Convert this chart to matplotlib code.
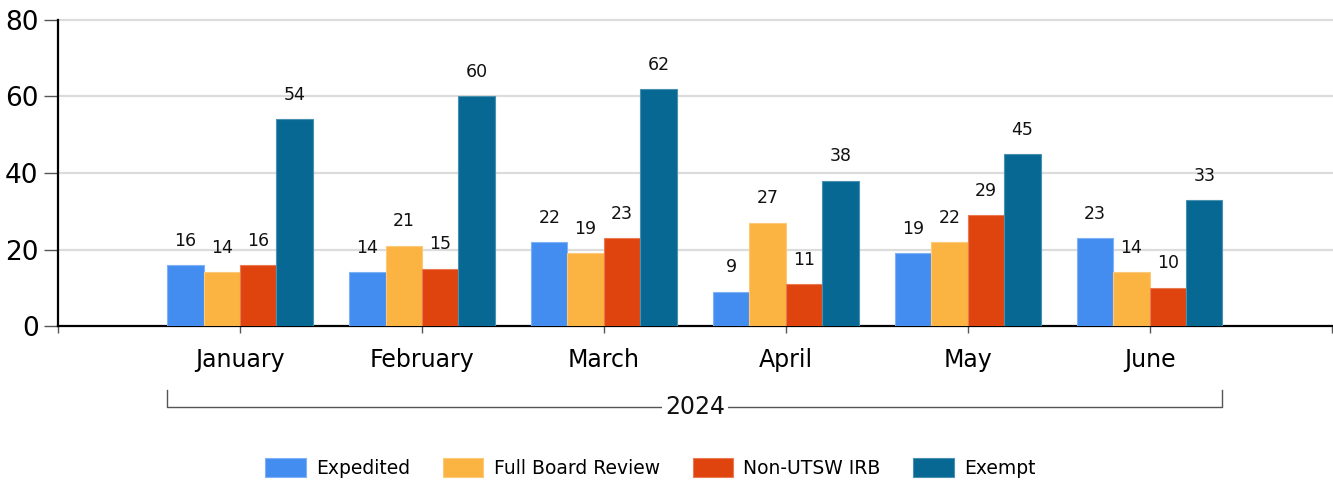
import numpy as np
import matplotlib
matplotlib.use("Agg")
import matplotlib.pyplot as plt
import matplotlib.transforms as mtransforms

months = ["January", "February", "March", "April", "May", "June"]
series_names = ["Expedited", "Full Board Review", "Non-UTSW IRB", "Exempt"]
expedited = [16, 14, 22, 9, 19, 23]
full_board = [14, 21, 19, 27, 22, 14]
non_utsw = [16, 15, 23, 11, 29, 10]
exempt = [54, 60, 62, 38, 45, 33]
colors = ["#438df0", "#fbb342", "#e0440e", "#066893"]
edges = ["#7fb1f5", "#fcc97a", "#ea7a52", "#4a90b0"]
year_label = "2024"

plt.rcParams["font.family"] = ["DejaVu Sans"]

fig = plt.figure(figsize=(13.33, 4.84), dpi=100)
ax = fig.add_axes([0.0435, 0.3264, 0.9555, 0.6323])

x = np.arange(len(months))
width = 0.2
all_series = [expedited, full_board, non_utsw, exempt]
for i, (name, vals) in enumerate(zip(series_names, all_series)):
    pos = x + (i - 1.5) * width
    bars = ax.bar(pos, vals, width, color=colors[i], edgecolor=edges[i],
                  linewidth=0.8, label=name, zorder=3)
    for b, v in zip(bars, vals):
        ax.annotate(str(v), (b.get_x() + b.get_width() / 2, v),
                    xytext=(0, 11), textcoords="offset points",
                    ha="center", va="bottom", fontsize=12.5, color="#111111")

ax.set_xlim(-1, 6)
ax.set_ylim(0, 80)
ax.set_yticks([0, 20, 40, 60, 80])
ax.tick_params(axis="y", labelsize=19, length=10, width=1, color="#555555",
               pad=4)
ax.set_xticks(np.arange(-1, 7))
ax.set_xticklabels([""] + months + [""])
ax.tick_params(axis="x", labelsize=17, length=5, width=1, color="#555555",
               pad=11)

for y in [20, 40, 60, 80]:
    ax.axhline(y, color="#dcdcdc", lw=1.6, zorder=1, clip_on=False,
               xmax=1.0)

for s in ["top", "right"]:
    ax.spines[s].set_visible(False)
ax.spines["left"].set_linewidth(1.6)
ax.spines["bottom"].set_linewidth(1.6)
ax.spines["left"].set_color("black")
ax.spines["bottom"].set_color("black")

# year bracket under the months
trans = mtransforms.blended_transform_factory(ax.transData, ax.transAxes)
x0 = x[0] - 2 * width
x1 = x[-1] + 2 * width
ax.plot([x0, x0, x1, x1], [-0.21, -0.265, -0.265, -0.21], color="#555555",
        lw=1, transform=trans, clip_on=False)
ax.text((x0 + x1) / 2, -0.265, year_label, transform=trans, ha="center",
        va="center", fontsize=17, color="#111111",
        bbox=dict(facecolor="white", edgecolor="none", pad=2))

fig.legend(loc="center", bbox_to_anchor=(0.488, 0.033), ncol=4,
           frameon=False, fontsize=13.5, handlelength=2.15, handleheight=1.15,
           handletextpad=0.55, columnspacing=1.75)

fig.savefig("out.png", dpi=100)
